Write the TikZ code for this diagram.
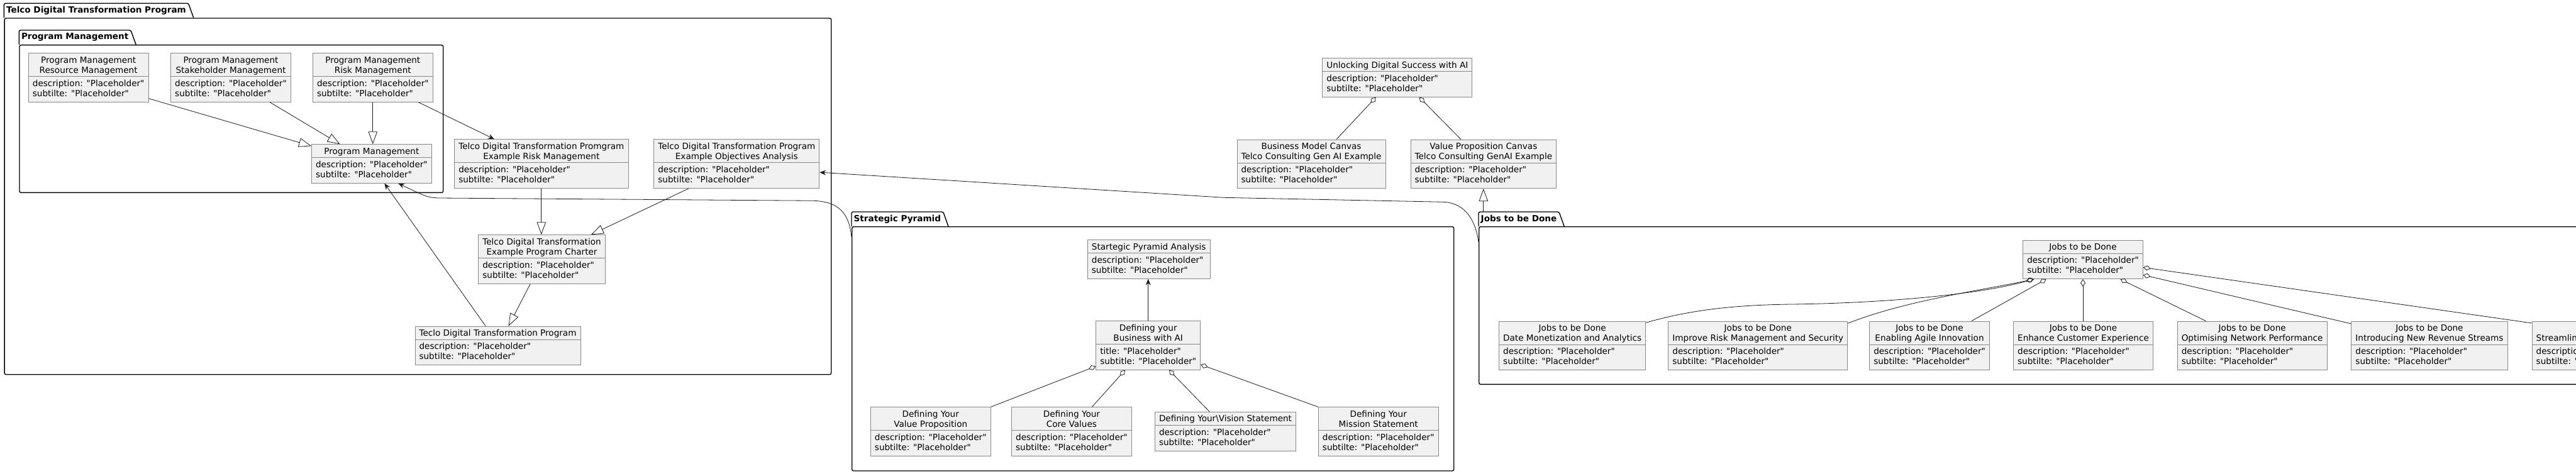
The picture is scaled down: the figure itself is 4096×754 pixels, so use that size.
\documentclass[tikz,border=0pt]{standalone}
\usepackage{fontspec}
\setmainfont{DejaVu Sans}
\usetikzlibrary{arrows.meta,shapes.multipart}
\definecolor{clsfill}{HTML}{F1F1F1}
\definecolor{clsline}{HTML}{888888}
\definecolor{lnkc}{HTML}{181818}

% class header and attribute compartments
\newcommand{\q}[1]{\textquotedbl#1\textquotedbl}
\newcommand{\hdr}[1]{\begin{tabular}{@{}c@{}}\rule{0pt}{15pt}#1\rule[-5pt]{0pt}{5pt}\end{tabular}}
\newcommand{\attrs}[2]{\begin{tabular}{@{}l@{}}\rule{0pt}{15.5pt}#1\\#2\rule[-8.5pt]{0pt}{8.5pt}\end{tabular}}
\newcommand{\ph}{\attrs{description: \q{Placeholder}}{subtilte: \q{Placeholder}}}

\begin{document}
\begin{tikzpicture}[
      x=1pt,y=-1pt,
      font=\fontsize{13.57}{16}\selectfont,
      cls/.style={rectangle split,rectangle split parts=2,
                  rectangle split part align={center,left},
                  draw=clsline,fill=clsfill,line width=0.8pt,
                  inner xsep=6.6pt,inner ysep=0pt,anchor=north},
      pkgbox/.style={draw,line width=1.4pt,rounded corners=2.5pt,
                  inner sep=0pt,anchor=north west},
      pkgtab/.style={minimum height=22.6pt,inner xsep=3.5pt,inner ysep=0pt,
                  font=\fontsize{13.57}{16}\selectfont\bfseries,anchor=south west},
      pkgline/.style={draw,line width=1.4pt,rounded corners=2.5pt},
      lnk/.style={draw=lnkc,line width=0.8pt},
      ext/.style={lnk,-{Triangle[open,length=20pt,width=14.5pt]}},
      dep/.style={lnk,-{Stealth[length=10pt,width=8pt,inset=3.5pt]}},
      agg/.style={lnk,{Diamond[open,length=12pt,width=8pt]}-}
    ]
    \useasboundingbox (0,0) rectangle (4096,754);
    \clip (0,0) rectangle (4096,754);

    % packages
    \node[pkgbox,minimum width=1314.6pt,minimum height=566.7pt] (tdtp) at (6.4,28.3) {};
    \node[pkgtab] (tdtp-tab) at (tdtp.north west) {Telco Digital Transformation Program};
    \draw[pkgline] (tdtp-tab.south west) -- (tdtp-tab.north west) -- (tdtp-tab.north east) -- ([xshift=8.2pt]tdtp-tab.south east);
    \node[pkgbox,minimum width=673.7pt,minimum height=234.7pt] (pmpkg) at (30.3,71) {};
    \node[pkgtab] (pmpkg-tab) at (pmpkg.north west) {Program Management};
    \draw[pkgline] (pmpkg-tab.south west) -- (pmpkg-tab.north west) -- (pmpkg-tab.north east) -- ([xshift=8.2pt]pmpkg-tab.south east);
    \node[pkgbox,minimum width=957pt,minimum height=388.3pt] (sppkg) at (1354,360) {};
    \node[pkgtab] (sppkg-tab) at (sppkg.north west) {Strategic Pyramid};
    \draw[pkgline] (sppkg-tab.south west) -- (sppkg-tab.north west) -- (sppkg-tab.north east) -- ([xshift=8.2pt]sppkg-tab.south east);
    \node[pkgbox,minimum width=1900pt,minimum height=250.7pt] (jtbdpkg) at (2351,360) {};
    \node[pkgtab] (jtbdpkg-tab) at (jtbdpkg.north west) {Jobs to be Done};
    \draw[pkgline] (jtbdpkg-tab.south west) -- (jtbdpkg-tab.north west) -- (jtbdpkg-tab.north east) -- ([xshift=8.2pt]jtbdpkg-tab.south east);

    % program management
    \node[cls] (pmres) at (140.7,84.3) {\hdr{Program Management\\Resource Management}\nodepart{two}\ph};
    \node[cls] (pmstake) at (367,84.3) {\hdr{Program Management\\Stakeholder Management}\nodepart{two}\ph};
    \node[cls] (pmrisk) at (592.8,84.3) {\hdr{Program Management\\Risk Management}\nodepart{two}\ph};
    \node[cls] (pm) at (590.9,229.3) {\hdr{Program Management}\nodepart{two}\ph};

    \node[cls] (riskex) at (860.8,221.3) {\hdr{Telco Digital Transformation Promgram\\Example Risk Management}\nodepart{two}\ph};
    \node[cls] (objex) at (1171.3,221.3) {\hdr{Telco Digital Transformation Program\\Example Objectives Analysis}\nodepart{two}\ph};
    \node[cls] (charter) at (861.5,373.3) {\hdr{Telco Digital Transformation\\Example Program Charter}\nodepart{two}\ph};
    \node[cls] (teclo) at (791.5,518.7) {\hdr{Teclo Digital Transformation Program}\nodepart{two}\ph};

    % canvases
    \node[cls] (unlock) at (2221.8,92.3) {\hdr{Unlocking Digital Success with AI}\nodepart{two}\ph};
    \node[cls] (bmc) at (2085,221.7) {\hdr{Business Model Canvas\\Telco Consulting Gen AI Example}\nodepart{two}\ph};
    \node[cls] (vpc) at (2358.8,221.7) {\hdr{Value Proposition Canvas\\Telco Consulting GenAI Example}\nodepart{two}\ph};

    % strategic pyramid
    \node[cls] (spa) at (1826.7,381.3) {\hdr{Startegic Pyramid Analysis}\nodepart{two}\ph};
    \node[cls] (defbiz) at (1825.7,510.3) {\hdr{Defining your\\Business with AI}\nodepart{two}\attrs{title: \q{Placeholder}}{subtitle: \q{Placeholder}}};
    \node[cls] (defval) at (1479.7,647.3) {\hdr{Defining Your\\Value Proposition}\nodepart{two}\ph};
    \node[cls] (defcore) at (1703.9,647.3) {\hdr{Defining Your\\Core Values}\nodepart{two}\ph};
    \node[cls] (defvis) at (1948.5,655) {\hdr{Defining Your\textbackslash Vision Statement}\nodepart{two}\ph};
    \node[cls] (defmis) at (2191.7,647.3) {\hdr{Defining Your\\Mission Statement}\nodepart{two}\ph};

    % jobs to be done
    \node[cls] (jtbd) at (3312,381.7) {\hdr{Jobs to be Done}\nodepart{two}\ph};
    \node[cls] (jdata) at (2500.2,510.7) {\hdr{Jobs to be Done\\Date Monetization and Analytics}\nodepart{two}\ph};
    \node[cls] (jrisk) at (2795.3,510.7) {\hdr{Jobs to be Done\\Improve Risk Management and Security}\nodepart{two}\ph};
    \node[cls] (jagile) at (3068,510.7) {\hdr{Jobs to be Done\\Enabling Agile Innovation}\nodepart{two}\ph};
    \node[cls] (jcx) at (3312.5,510.7) {\hdr{Jobs to be Done\\Enhance Customer Experience}\nodepart{two}\ph};
    \node[cls] (jnet) at (3581.1,510.7) {\hdr{Jobs to be Done\\Optimising Network Performance}\nodepart{two}\ph};
    \node[cls] (jrev) at (3862.9,510.7) {\hdr{Jobs to be Done\\Introducing New Revenue Streams}\nodepart{two}\ph};
    \node[cls,anchor=north west] (jstream) at (4025.7,510.7) {\hdr{Jobs to be Done\\Streamlining Operations and Reducing Costs}\nodepart{two}\ph};

    % program management links
    \draw[ext] ([yshift=6pt]pmres.south east) -- ([yshift=-3pt]pm.north west);
    \draw[ext] ([xshift=158pt]pmstake.south west) -- ([xshift=45.5pt]pm.north west);
    \draw[ext] (pmrisk.south) -- (pmrisk.south |- pm.north);
    \draw[dep] ([xshift=168.4pt]pmrisk.south west) -- ([xshift=63.7pt]riskex.north west);
    \draw[ext] (riskex.south) -- (riskex.south |- charter.north);
    \draw[ext] ([xshift=56pt]objex.south west) -- ([xshift=179.5pt]charter.north west);
    \draw[ext] ([xshift=82.8pt]charter.south west) -- ([xshift=149pt]teclo.north west);
    \draw[dep] ([xshift=112.6pt]teclo.north west) -- ([xshift=116.2pt]pm.south west);
    \draw[dep] ([yshift=-17pt]sppkg.north west) .. controls (1350,340) and (1335,321) .. (1294,319.3)
      -- (697,315) .. controls (680,314) .. ([xshift=138.1pt]pm.south west);
    \draw[dep] ([yshift=-25pt]jtbdpkg.north west) .. controls (2346,350) and (2330,323) .. (2295,321.3)
      -- (1946,314.3) -- ([yshift=25.6pt]objex.south east);

    % canvas links
    \draw[agg] ([xshift=85.4pt]unlock.south west) -- ([xshift=158.4pt]bmc.north west);
    \draw[agg] ([xshift=154.4pt]unlock.south west) -- ([xshift=80.4pt]vpc.north west);
    \draw[ext] (vpc.south |- jtbdpkg-tab.north) -- (vpc.south);

    % pyramid links
    \draw[dep] (defbiz.north) -- (defbiz.north |- spa.south);
    \draw[agg] ([yshift=6pt]defbiz.south west) -- (defval.north east);
    \draw[agg] ([xshift=46.7pt]defbiz.south west) -- ([xshift=128.2pt]defcore.north west);
    \draw[agg] ([xshift=116.7pt]defbiz.south west) -- ([xshift=87.3pt]defvis.north west);
    \draw[agg] ([yshift=8.7pt]defbiz.south east) -- (defmis.north west);

    % jobs links
    \draw[agg] ([xshift=16.5pt]jtbd.south west) .. controls (3150,468) and (3000,482) .. (2850,484)
      .. controls (2750,485) and (2680,495) .. ([yshift=-2.6pt]jdata.north east);
    \draw[agg] ([xshift=18pt]jtbd.south west) .. controls (3150,462) and (3030,478) .. ([yshift=-3.6pt]jrisk.north east);
    \draw[agg] ([xshift=37.3pt]jtbd.south west) -- ([xshift=162.5pt]jagile.north west);
    \draw[agg] (jtbd.south) -- (jtbd.south |- jcx.north);
    \draw[agg] ([xshift=155.3pt]jtbd.south west) -- ([xshift=45.8pt]jnet.north west);
    \draw[agg] ([yshift=6.7pt]jtbd.south east) -- ([yshift=-4.3pt]jrev.north west);
    \draw[agg] ([yshift=18.7pt]jtbd.south east) -- ([yshift=-3.3pt]jstream.north west);
  \end{tikzpicture}
\end{document}
